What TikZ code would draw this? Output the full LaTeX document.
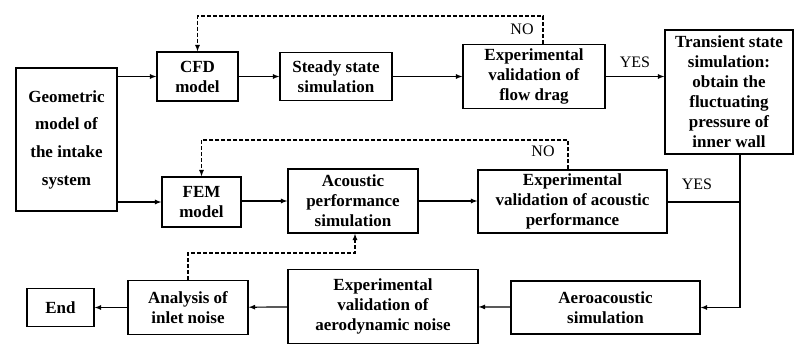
\documentclass[tikz,border=0pt]{standalone}
\usepackage{fontspec}
\setmainfont{Liberation Serif}
\usepackage{tikz}
\usetikzlibrary{arrows}

\begin{document}
\begin{tikzpicture}[x=1pt,y=-1pt,
  box/.style={draw,line width=1.3pt,inner sep=0pt,align=center,
    font=\bfseries\fontsize{17}{20}\selectfont},
  flow/.style={-latex,line width=1.2pt},
  back/.style={-latex,line width=1.2pt,dash pattern=on 4pt off 2pt},
  lbl/.style={font=\fontsize{16}{18}\selectfont,inner sep=0pt}]
\useasboundingbox (0,0) rectangle (795,345);
\node[box,minimum width=101pt,minimum height=143pt,
  font=\bfseries\fontsize{17}{27.7}\selectfont] (geo) at (66.5,139.5) {Geometric\\model of\\the intake\\system};
\node[box,minimum width=81pt,minimum height=49pt] (cfd) at (197.5,76.5) {CFD\\model};
\node[box,minimum width=112pt,minimum height=48pt] (steady) at (336,76.5) {Steady state\\simulation};
\node[box,minimum width=142pt,minimum height=64pt] (drag) at (534,76.5) {Experimental\\validation of\\flow drag};
\node[box,minimum width=128pt,minimum height=124pt] (trans) at (729,92) {Transient state\\simulation:\\obtain the\\fluctuating\\pressure of\\inner wall};
\node[box,minimum width=79pt,minimum height=50pt] (fem) at (201.5,202) {FEM\\model};
\node[box,minimum width=130pt,minimum height=64pt] (acou) at (353,201) {Acoustic\\performance\\simulation};
\node[box,minimum width=189pt,minimum height=63pt] (expac) at (572.5,201.5) {Experimental\\validation of acoustic\\performance};
\node[box,minimum width=189pt,minimum height=53pt] (aero) at (605.5,307.5) {Aeroacoustic\\simulation};
\node[box,minimum width=190pt,minimum height=74pt] (expaero) at (383,306.5) {Experimental\\validation of\\aerodynamic noise};
\node[box,minimum width=120pt,minimum height=54pt] (anal) at (188,307.5) {Analysis of\\inlet noise};
\node[box,minimum width=67pt,minimum height=38pt] (end) at (60.5,307.5) {End};

\coordinate (loopA) at (543,16);
\coordinate (loopB) at (568,140);
\coordinate (loopC) at (355,253);
\coordinate (join) at (740,202);

\draw[flow] (geo.east |- cfd.west) -- (cfd.west);
\draw[flow] (cfd) -- (steady);
\draw[flow] (steady) -- (drag);
\draw[flow] (drag.east) -- (drag.east -| trans.west);
\draw[back] (drag.north -| loopA) |- (cfd.north |- loopA) -- (cfd.north);
\node[lbl] (noA) at (522,29) {NO};
\node[lbl] (yesA) at (635,62) {YES};

\draw[flow] (geo.east |- fem.west) -- (fem.west);
\draw[flow] (fem.east |- acou.west) -- (acou.west);
\draw[flow] (acou) -- (acou.east -| expac.west);
\draw[back] (expac.north -| loopB) |- (fem.north |- loopB) -- (fem.north);
\node[lbl] (noB) at (543,151) {NO};
\node[lbl] (yesB) at (697,184) {YES};

\draw[line width=1.2pt] (expac.east |- join) -- (join);
\draw[flow] (trans.south -| join) |- (aero.east);
\draw[flow] (aero) -- (expaero);
\draw[flow] (expaero) -- (anal);
\draw[flow] (anal) -- (end);
\draw[back] (anal.north) |- (loopC) -- (acou.south -| loopC);
\end{tikzpicture}
\end{document}
